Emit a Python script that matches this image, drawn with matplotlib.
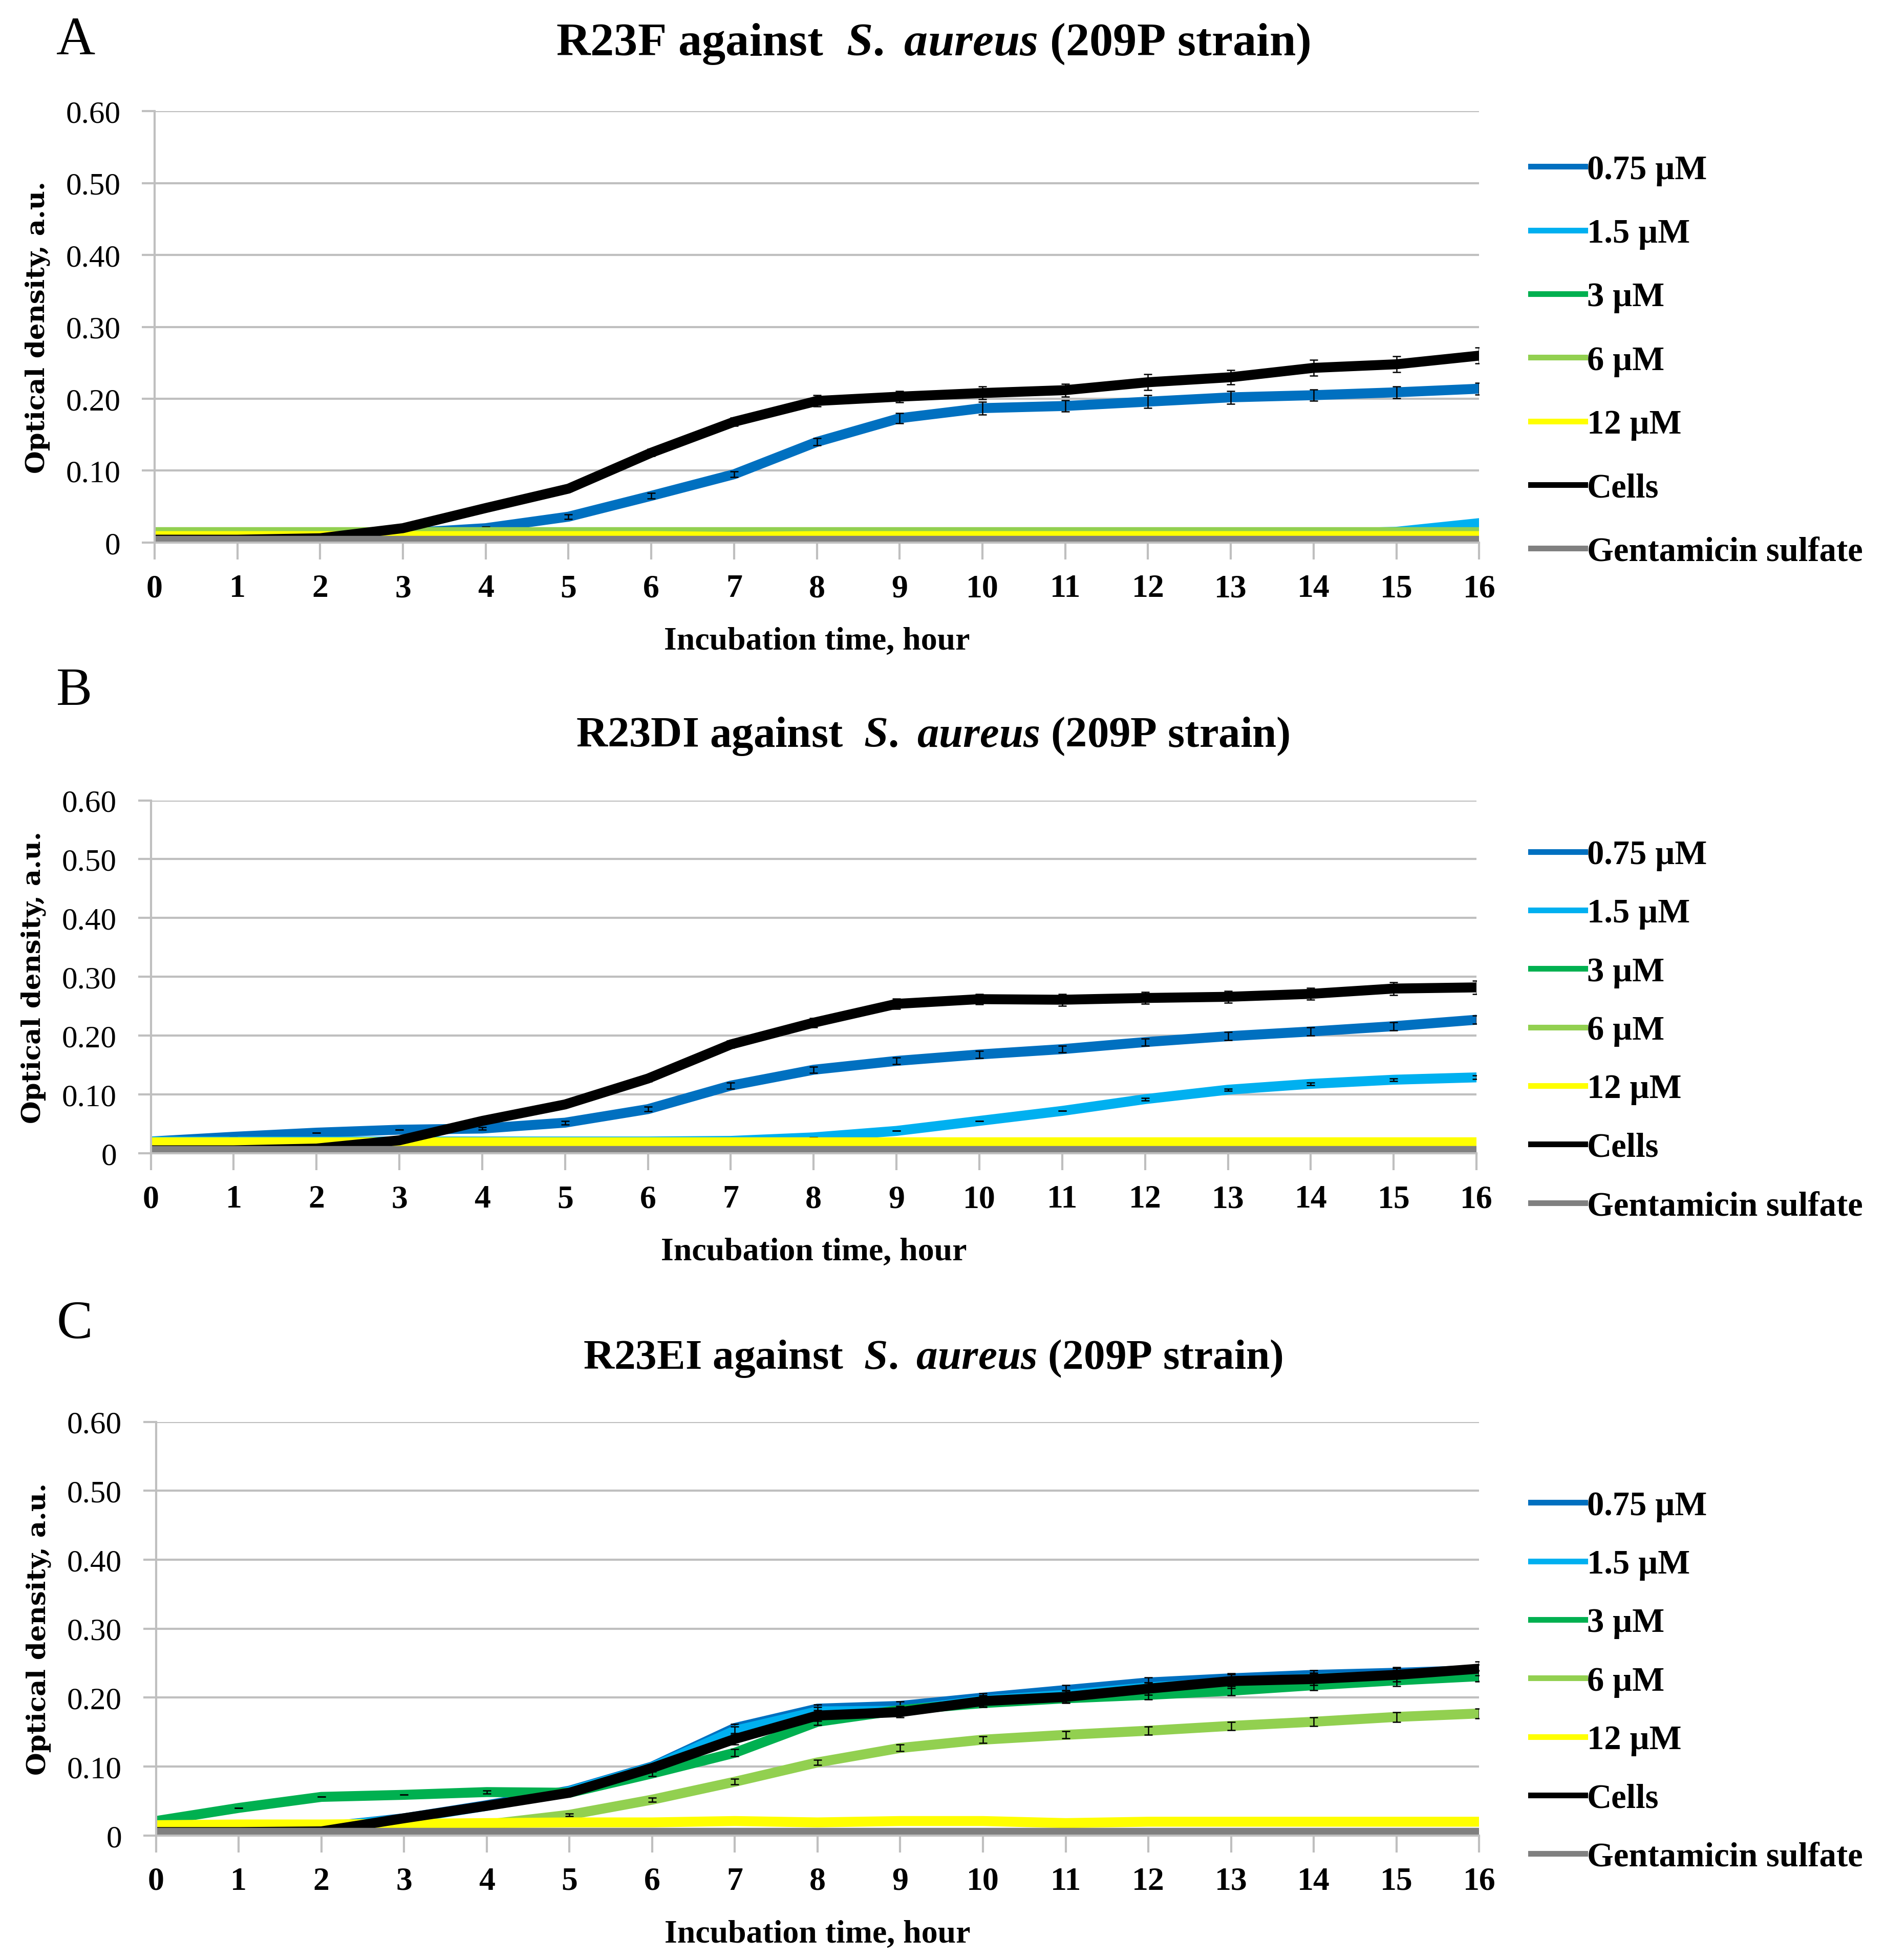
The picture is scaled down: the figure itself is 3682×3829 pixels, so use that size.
import matplotlib
matplotlib.use("Agg")
import matplotlib.pyplot as plt

plt.rcParams['font.family'] = ['Liberation Serif', 'DejaVu Serif']
plt.rcParams['mathtext.fontset'] = 'custom'
plt.rcParams['mathtext.rm'] = 'Liberation Serif:bold'
plt.rcParams['mathtext.it'] = 'Liberation Serif:italic:bold'
plt.rcParams['mathtext.bf'] = 'Liberation Serif:bold'

hours = list(range(17))
labels = ["0.75 µM", "1.5 µM", "3 µM", "6 µM", "12 µM", "Cells", "Gentamicin sulfate"]
colors = ["#0070C0", "#00B0F0", "#00B050", "#92D050", "#FFFF00", "#000000", "#808080"]

# panel A - R23F
a_075 = [0.010, 0.010, 0.010, 0.013, 0.020, 0.036, 0.065, 0.095, 0.140, 0.173, 0.187, 0.190, 0.196, 0.202, 0.205, 0.209, 0.214]
a_15 = [0.013, 0.013, 0.012, 0.012, 0.012, 0.012, 0.012, 0.012, 0.012, 0.012, 0.012, 0.012, 0.012, 0.012, 0.012, 0.015, 0.027]
a_3 = [0.014, 0.014, 0.014, 0.014, 0.014, 0.014, 0.014, 0.014, 0.014, 0.014, 0.014, 0.014, 0.014, 0.014, 0.014, 0.014, 0.014]
a_6 = [0.015, 0.015, 0.015, 0.015, 0.015, 0.015, 0.015, 0.015, 0.015, 0.015, 0.015, 0.015, 0.015, 0.015, 0.015, 0.015, 0.015]
a_12 = [0.009, 0.009, 0.009, 0.009, 0.009, 0.009, 0.009, 0.008, 0.009, 0.009, 0.009, 0.009, 0.009, 0.009, 0.009, 0.009, 0.009]
a_cells = [0.004, 0.004, 0.006, 0.020, 0.048, 0.075, 0.125, 0.168, 0.197, 0.203, 0.208, 0.212, 0.223, 0.230, 0.243, 0.248, 0.260]
a_gent = [0.003, 0.003, 0.003, 0.003, 0.003, 0.003, 0.003, 0.003, 0.003, 0.003, 0.003, 0.003, 0.003, 0.003, 0.003, 0.003, 0.003]
a_err_075 = [0, 0, 0, 0, 0.002, 0.003, 0.004, 0.004, 0.005, 0.007, 0.009, 0.008, 0.009, 0.009, 0.008, 0.008, 0.008]
a_err_cells = [0, 0, 0, 0.002, 0.003, 0.004, 0.005, 0.006, 0.008, 0.008, 0.009, 0.009, 0.011, 0.010, 0.011, 0.011, 0.011]

# panel B - R23DI
b_075 = [0.020, 0.028, 0.035, 0.040, 0.042, 0.052, 0.075, 0.115, 0.142, 0.157, 0.168, 0.177, 0.189, 0.199, 0.207, 0.216, 0.227]
b_15 = [0.020, 0.020, 0.020, 0.020, 0.020, 0.020, 0.020, 0.021, 0.027, 0.038, 0.055, 0.072, 0.092, 0.108, 0.118, 0.125, 0.129]
b_3 = [0.012, 0.012, 0.012, 0.012, 0.012, 0.012, 0.012, 0.012, 0.012, 0.012, 0.012, 0.012, 0.012, 0.012, 0.012, 0.012, 0.012]
b_6 = [0.016, 0.016, 0.016, 0.016, 0.016, 0.016, 0.016, 0.016, 0.016, 0.016, 0.016, 0.016, 0.016, 0.016, 0.016, 0.016, 0.016]
b_12 = [0.019, 0.019, 0.019, 0.019, 0.019, 0.019, 0.019, 0.019, 0.019, 0.019, 0.019, 0.019, 0.019, 0.019, 0.019, 0.019, 0.019]
b_cells = [0.005, 0.005, 0.008, 0.022, 0.055, 0.083, 0.127, 0.185, 0.222, 0.254, 0.262, 0.261, 0.264, 0.266, 0.271, 0.280, 0.282]
b_gent = [0.004, 0.004, 0.004, 0.004, 0.004, 0.004, 0.004, 0.004, 0.004, 0.004, 0.004, 0.004, 0.004, 0.004, 0.004, 0.004, 0.004]
b_err_075 = [0, 0, 0, 0, 0.002, 0.003, 0.004, 0.005, 0.005, 0.006, 0.006, 0.006, 0.006, 0.007, 0.007, 0.007, 0.007]
b_err_15 = [0, 0, 0, 0, 0, 0, 0, 0, 0, 0, 0, 0, 0.002, 0.002, 0.002, 0.002, 0.003]
b_err_cells = [0, 0, 0, 0.002, 0.003, 0.004, 0.005, 0.006, 0.008, 0.009, 0.009, 0.010, 0.010, 0.010, 0.010, 0.011, 0.011]

# panel C - R23EI
c_075 = [0.012, 0.012, 0.012, 0.025, 0.044, 0.065, 0.100, 0.156, 0.184, 0.188, 0.200, 0.211, 0.222, 0.228, 0.233, 0.236, 0.240]
c_15 = [0.012, 0.012, 0.012, 0.024, 0.043, 0.064, 0.099, 0.152, 0.180, 0.181, 0.196, 0.204, 0.215, 0.222, 0.228, 0.232, 0.232]
c_3 = [0.021, 0.040, 0.056, 0.059, 0.063, 0.062, 0.090, 0.120, 0.165, 0.182, 0.192, 0.199, 0.204, 0.210, 0.218, 0.225, 0.231]
c_6 = [0.014, 0.014, 0.015, 0.015, 0.016, 0.030, 0.052, 0.078, 0.106, 0.127, 0.139, 0.146, 0.152, 0.159, 0.165, 0.172, 0.177]
c_12 = [0.015, 0.016, 0.016, 0.017, 0.018, 0.019, 0.019, 0.021, 0.019, 0.021, 0.021, 0.018, 0.020, 0.020, 0.020, 0.020, 0.020]
c_cells = [0.005, 0.005, 0.006, 0.025, 0.043, 0.062, 0.098, 0.140, 0.174, 0.179, 0.195, 0.201, 0.213, 0.224, 0.227, 0.233, 0.242]
c_gent = [0.004, 0.004, 0.004, 0.004, 0.004, 0.004, 0.004, 0.004, 0.004, 0.004, 0.004, 0.004, 0.004, 0.004, 0.004, 0.004, 0.004]
c_err_075 = [0, 0, 0, 0, 0, 0.003, 0.004, 0.006, 0.006, 0.006, 0.006, 0.007, 0.007, 0.007, 0.007, 0.008, 0.008]
c_err_3 = [0, 0, 0, 0, 0.002, 0.002, 0.004, 0.005, 0.005, 0.006, 0.006, 0.006, 0.007, 0.007, 0.007, 0.008, 0.008]
c_err_6 = [0, 0, 0, 0, 0, 0.002, 0.003, 0.004, 0.004, 0.005, 0.005, 0.005, 0.006, 0.006, 0.006, 0.007, 0.007]
c_err_cells = [0, 0, 0, 0.002, 0.003, 0.004, 0.005, 0.008, 0.008, 0.008, 0.008, 0.009, 0.009, 0.010, 0.009, 0.010, 0.010]

zeros = [0] * 17
panels = [
    dict(letter="A", name="R23F",
         series=[a_075, a_15, a_3, a_6, a_12, a_cells, a_gent],
         errs=[a_err_075, zeros, zeros, zeros, zeros, a_err_cells, zeros],
         rect=[0.082, 0.723, 0.7027, 0.220], title_y=0.9776, letter_y=0.979,
         title_size=66.5, leg_top=0.921, leg_space=0.95),
    dict(letter="B", name="R23DI",
         series=[b_075, b_15, b_3, b_6, b_12, b_cells, b_gent],
         errs=[b_err_075, b_err_15, zeros, zeros, zeros, b_err_cells, zeros],
         rect=[0.080, 0.4115, 0.7033, 0.180], title_y=0.6244, letter_y=0.647,
         title_size=61, leg_top=0.5715, leg_space=0.80),
    dict(letter="C", name="R23EI",
         series=[c_075, c_15, c_3, c_6, c_12, c_cells, c_gent],
         errs=[c_err_075, c_err_075, c_err_3, c_err_6, zeros, c_err_cells, zeros],
         rect=[0.0827, 0.0635, 0.702, 0.211], title_y=0.307, letter_y=0.324,
         title_size=60, leg_top=0.2395, leg_space=0.80),
]

fig = plt.figure(figsize=(36.82, 38.30), dpi=100)

for p in panels:
    ax = fig.add_axes(p["rect"])
    for vals, err, lab, col in zip(p["series"], p["errs"], labels, colors):
        ax.plot(hours, vals, color=col, lw=14, label=lab, solid_joinstyle='round')
        if any(err):
            ax.errorbar(hours, vals, yerr=err, fmt='none', ecolor='black',
                        elinewidth=1.8, capsize=6, capthick=1.8)
    ax.set_xlim(0, 16)
    ax.set_ylim(0, 0.6)
    ax.set_xticks(hours)
    ax.set_yticks([0, 0.1, 0.2, 0.3, 0.4, 0.5, 0.6])
    ax.set_yticklabels(["0", "0.10", "0.20", "0.30", "0.40", "0.50", "0.60"])
    ax.yaxis.grid(True, color="#BFBFBF", lw=3)
    ax.set_axisbelow(True)
    for s in ["top", "right"]:
        ax.spines[s].set_visible(False)
    for s in ["left", "bottom"]:
        ax.spines[s].set_color("#BFBFBF")
        ax.spines[s].set_linewidth(3)
    ax.tick_params(axis='y', length=18, width=3, color="#BFBFBF", pad=30, labelsize=44)
    ax.tick_params(axis='x', length=24, width=3, color="#BFBFBF", pad=20, labelsize=46)
    for t in ax.get_xticklabels():
        t.set_fontweight('bold')
    ax.set_xlabel("Incubation time, hour", fontsize=46, fontweight='bold', labelpad=32)
    ax.set_ylabel("Optical density, a.u.", fontsize=37, fontweight='bold',
                  family='DejaVu Serif', labelpad=22)

    leg = ax.legend(loc='upper left', bbox_to_anchor=(0.812, p["leg_top"]),
                    bbox_transform=fig.transFigure, frameon=False,
                    prop={'weight': 'bold', 'size': 48}, handlelength=1.6,
                    handletextpad=0.05, labelspacing=p["leg_space"], borderpad=0,
                    borderaxespad=0)
    for line in leg.get_lines():
        line.set_linewidth(8)

    fig.text(0.495, p["title_y"], p["name"] + r" against  $\mathit{S.\ aureus}$ (209P strain)",
             ha='center', va='center', fontsize=p["title_size"], fontweight='bold')
    fig.text(0.03, p["letter_y"], p["letter"], ha='left', va='center', fontsize=76)

fig.savefig("out.png", dpi=100)
